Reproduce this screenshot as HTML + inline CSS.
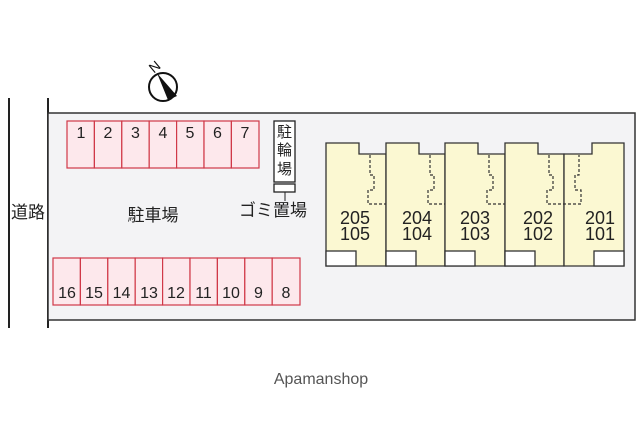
<!DOCTYPE html>
<html><head><meta charset="utf-8"><style>
body{margin:0;background:#fff;width:640px;height:427px;overflow:hidden}
svg text{font-family:"Liberation Sans","Noto Sans CJK JP",sans-serif}
</style></head><body>
<svg width="640" height="427" viewBox="0 0 640 427" xmlns="http://www.w3.org/2000/svg">
<line x1="9" y1="98" x2="9" y2="328" stroke="#222" stroke-width="2"/>
<line x1="48" y1="98" x2="48" y2="328" stroke="#222" stroke-width="2"/>
<rect x="48" y="113" width="587" height="207" fill="#f3f3f5" stroke="#333" stroke-width="1.5"/>
<text x="28" y="218" font-size="17" text-anchor="middle" fill="#222">道路</text>
<circle cx="163" cy="87" r="14" fill="#fff" stroke="#111" stroke-width="2"/>
<polygon points="157,73 177,96 168,100" fill="#111"/>
<text x="150" y="73" font-size="14" fill="#111" transform="rotate(-40 153 68)">N</text>
<g fill="#fde8ec" stroke="#d03848" stroke-width="1.2">
<rect x="67" y="121" width="27.4" height="47"/><rect x="94.4" y="121" width="27.4" height="47"/><rect x="121.8" y="121" width="27.4" height="47"/><rect x="149.2" y="121" width="27.4" height="47"/><rect x="176.6" y="121" width="27.4" height="47"/><rect x="204" y="121" width="27.4" height="47"/><rect x="231.4" y="121" width="27.6" height="47"/>
<rect x="53" y="258" width="27.4" height="47"/><rect x="80.4" y="258" width="27.4" height="47"/><rect x="107.8" y="258" width="27.4" height="47"/><rect x="135.2" y="258" width="27.4" height="47"/><rect x="162.6" y="258" width="27.4" height="47"/><rect x="190" y="258" width="27.4" height="47"/><rect x="217.4" y="258" width="27.4" height="47"/><rect x="244.8" y="258" width="27.4" height="47"/><rect x="272.2" y="258" width="27.8" height="47"/>
</g>
<g font-size="16" fill="#222" text-anchor="middle">
<text x="81" y="138">1</text><text x="108" y="138">2</text><text x="135.5" y="138">3</text><text x="163" y="138">4</text><text x="190" y="138">5</text><text x="217.5" y="138">6</text><text x="245" y="138">7</text>
<text x="67" y="298">16</text><text x="94" y="298">15</text><text x="121.5" y="298">14</text><text x="149" y="298">13</text><text x="176" y="298">12</text><text x="203.5" y="298">11</text><text x="231" y="298">10</text><text x="258.5" y="298">9</text><text x="286" y="298">8</text>
</g>
<text x="153" y="221" font-size="17" text-anchor="middle" fill="#222">駐車場</text>
<rect x="274" y="121" width="21" height="61" fill="#fff" stroke="#222" stroke-width="1.3"/>
<g font-size="15" fill="#222" text-anchor="middle"><text x="284.5" y="137">駐</text><text x="284.5" y="155">輪</text><text x="284.5" y="174">場</text></g>
<rect x="274" y="184" width="21" height="8" fill="#fff" stroke="#222" stroke-width="1.3"/>
<line x1="285" y1="192" x2="285" y2="201" stroke="#222"/>
<text x="273" y="216" font-size="17" text-anchor="middle" fill="#222">ゴミ置場</text>
<g stroke="#333" stroke-width="1.3" fill="#fbf8d2">
<path d="M326,143 H359 V154 H386 V266 H326 Z"/>
<path d="M386,143 H419 V154 H445 V266 H386 Z"/>
<path d="M445,143 H478 V154 H505 V266 H445 Z"/>
<path d="M505,143 H538 V154 H564 V266 H505 Z"/>
<path d="M564,154 H592 V143 H624 V266 H564 Z"/>
</g>
<g fill="#fff" stroke="#333" stroke-width="1.3">
<rect x="326" y="251" width="30" height="15"/><rect x="386" y="251" width="30" height="15"/><rect x="445" y="251" width="30" height="15"/><rect x="505" y="251" width="30" height="15"/><rect x="594" y="251" width="30" height="15"/>
</g>
<g fill="none" stroke="#333" stroke-width="1.2" stroke-dasharray="3,2">
<path d="M370,155 V175 H374 V190 H368 V204 H386"/>
<path d="M430,155 V175 H434 V190 H428 V204 H445"/>
<path d="M489,155 V175 H493 V190 H487 V204 H505"/>
<path d="M549,155 V175 H553 V190 H547 V204 H564 H581 V190 H575 V175 H579 V155"/>
</g>
<g font-size="18" fill="#222" text-anchor="middle">
<text x="355" y="224">205</text><text x="355" y="240">105</text>
<text x="417" y="224">204</text><text x="417" y="240">104</text>
<text x="475" y="224">203</text><text x="475" y="240">103</text>
<text x="538" y="224">202</text><text x="538" y="240">102</text>
<text x="600" y="224">201</text><text x="600" y="240">101</text>
</g>
<text x="321" y="384" font-size="16" text-anchor="middle" fill="#555">Apamanshop</text>
</svg>
</body></html>
